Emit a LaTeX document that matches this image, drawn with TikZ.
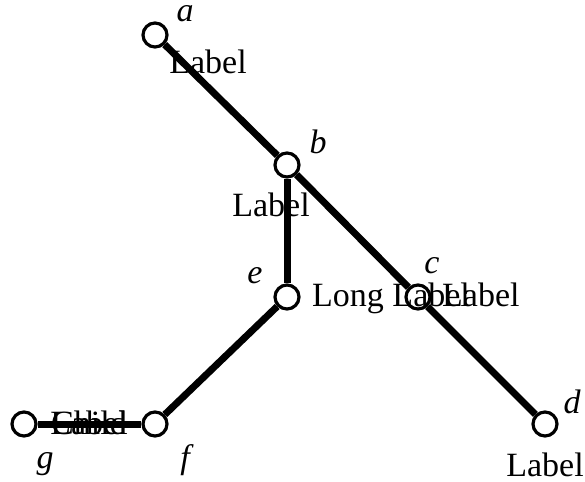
\documentclass[tikz,border=0pt]{standalone}
\usepackage{fontspec}
\setmainfont{Liberation Serif}
\usetikzlibrary{positioning}

\begin{document}
\begin{tikzpicture}[x=1pt,y=-1pt, every node/.style={font=\fontsize{34}{40}\selectfont}, vtx/.style={circle,draw,line width=3.2pt,minimum size=24pt,inner sep=0pt}, edge/.style={line width=7pt}, tag/.style={font=\fontsize{34}{40}\selectfont\itshape,inner sep=0pt}, lbl/.style={inner sep=0pt}]
\useasboundingbox (0,0) rectangle (585,481);
% labels first, the edges run over them
\node[lbl] (la) at (208,62) {Label};
\node[lbl] (lb) at (271,205) {Label};
\node[lbl,anchor=base west] (le) at (312,306) {Long Label};
\node[lbl,anchor=base west] (lc) at (442,306) {Label};
\node[lbl] (ld) at (545,465) {Label};
\node[lbl] (lgf1) at (89,423) {Child};
\node[lbl] (lgf2) at (89,423) {Label};
% vertices
\node[vtx] (a) at (155,35) {};
\node[vtx] (b) at (287,165) {};
\node[vtx] (c) at (418,297) {};
\node[vtx] (d) at (545,424) {};
\node[vtx] (e) at (287,297) {};
\node[vtx] (f) at (155,424) {};
\node[vtx] (g) at (24,424) {};
\draw[edge] (a)--(b);\draw[edge] (b)--(c);\draw[edge] (c)--(d);\draw[edge] (b)--(e);\draw[edge] (e)--(f);\draw[edge] (f)--(g);
% names
\node[tag] (ta) at (185,14) {a};
\node[tag] (tb) at (318,142) {b};
\node[tag] (tc) at (432,266) {c};
\node[tag] (td) at (572,402) {d};
\node[tag] (te) at (255,276) {e};
\node[tag] (tf) at (185,460) {f};
\node[tag] (tg) at (45,464) {g};
\end{tikzpicture}
\end{document}
